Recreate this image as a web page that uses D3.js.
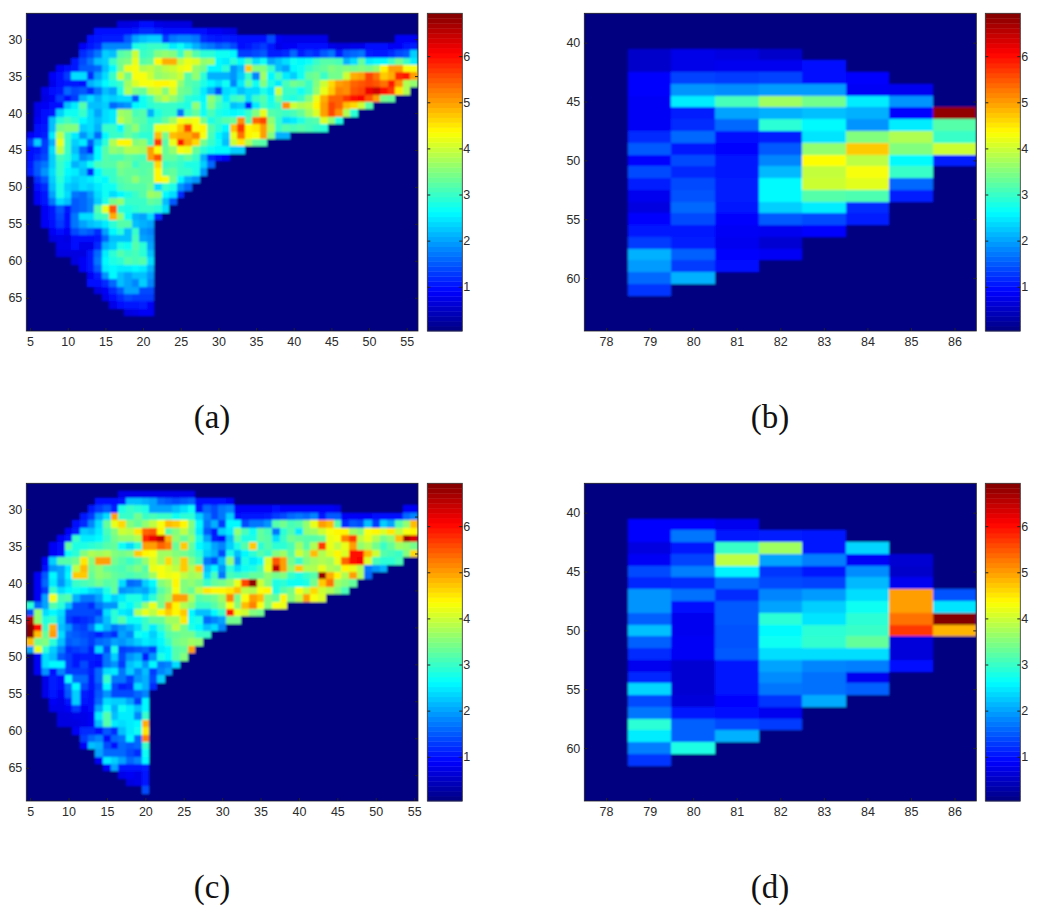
<!DOCTYPE html>
<html>
<head>
<meta charset="utf-8">
<script src="https://cdnjs.cloudflare.com/ajax/libs/d3/7.8.5/d3.min.js"></script>
<style>
  html, body { margin: 0; background: #fff; }
  text { font-family: "Liberation Sans", Arial, sans-serif; font-size: 12.5px; fill: #2b2b2b; }
  .caption { font-family: "Liberation Serif", serif; font-size: 33px; fill: #111; text-anchor: middle; }
  .domain { display: none; }
  .tick line { stroke: #222; }
  .cell { shape-rendering: crispEdges; }
</style>
</head>
<body>
<div id="chart"></div>
<script>
// rows 28..67, columns start at the value in startA
const startA = [17,14,13,12,12,11,9,8,8,7,7,6,6,6,6,5,5,5,5,5,5,6,6,6,6,7,7,7,8,8,9,9,11,12,13,13,14,15,16,18];
const valuesA = [
  [.7,.7,.75,.95,.95,.75,.7,.7,.7,.7],
  [.95,.95,1,1,1,1.05,1.2,1.2,1.1,1,1,1,1,1,.95,.85,.85,.75,.7],
  [.95,1.05,1.1,1.1,1.1,1.5,2,2.2,2.3,2.3,1.3,1.7,1.8,1.8,1.7,1.2,1.1,1.05,1.1,1.05,.95,.95,.95,.95,1.4,.85,.75,.75,.75,.75,.75,.75,0,0,0,0,0,0,0,0,0,.85,.85,.85],
  [.85,1.05,1.2,1.8,1.8,1.8,1.8,2.8,2.9,3,3,2.9,2.5,2.7,2.4,2.1,1.8,1.7,1.5,1.6,1.4,1,1.05,1.2,1.3,1.05,.75,.85,.85,.95,.95,.95,1,.75,.7,.7,.75,.75,1,1,1,.85,.85,1.05,1.1],
  [1.2,1.4,1.7,2.3,2.2,3.2,3.3,4,3,3.1,3.5,3.6,3.5,3,3.7,3.2,2.9,2.9,2.7,2.7,2.6,1.3,1.3,1.4,1.5,1.1,1.1,1.2,1.6,1.1,1.3,1.2,1.5,1.7,1.1,1.5,1.6,1.7,1.1,1.05,1.05,1.2,1.4,1.5,2.3],
  [1.05,1.4,1.7,2.2,2.3,3,3.4,3.5,4.2,3.2,3.3,4.4,4.9,4.9,3.9,4.2,4.1,3.6,3.7,2.6,2.5,2.9,2.6,3.1,2.4,2.7,2,2.2,2.4,2.7,2.6,2.7,3,3.2,3.2,3.1,2.1,2.4,3.3,2.5,2.6,2.6,3,3.4,3,2.5],
  [.85,.95,1.05,1.5,1.5,1.6,2.2,2.6,3.4,4.2,4.3,3.8,3.9,3.7,3.9,4,4.2,4.3,3.6,3.4,2.6,2.6,2.9,1.9,2.2,4.7,3.5,3.5,3,2.2,2,2.6,2.7,3,3.2,3.3,3.5,3.4,3.5,3.4,3.5,3.4,3.6,4.4,5,5,4.3,4.3],
  [.85,.95,1.3,2.4,2.4,1.2,2,2.4,3,4,3.4,4.3,4.3,4,3.6,3.7,3.8,4,3.2,3.6,2.9,2.1,2.1,2.1,1.9,2.3,3,1.8,3.7,2.6,3.1,2.5,2.3,2.7,3.3,3.4,3,3.4,3.4,4,4.9,5,5.6,5.3,4.7,4.9,5.8,5.9,5,4.3,3.6],
  [.75,.95,1.05,1.05,1,2.1,2.3,2.6,2.8,3,3.7,4.1,4.3,4.3,4.4,4.4,4.3,3.6,3.2,3.1,2.8,2.6,2.4,2.7,1.8,2.5,3.3,2.7,3.5,2.8,2.5,3.1,3.4,3.3,3,3.5,4,4.6,5,5.1,5.4,5.5,5.6,5.5,5.3,5.9,5.1,3.8,3.6],
  [.75,.95,1.05,1.6,1.4,1.5,1.2,1.7,2.2,2,2.8,3.8,3.4,3.3,3.9,4,3.5,4.1,3.4,3.3,3,2.5,2.1,1.4,2.4,2.5,2.2,2.4,2.4,2.8,2.5,4,3,3,2.7,3,3.6,4.2,4.7,5.2,5.1,5.5,5.6,6.2,6.4,6,5.7,4.5,3.8],
  [.7,.85,1.3,.95,1.3,2.1,2.4,2.1,2.4,2.3,2.4,2.4,1.5,2.7,3,3.6,3.9,3.6,3.3,2.9,2.8,2.6,3.6,3.2,2.5,3,3.1,2.4,3,3.2,2.7,3.4,2.9,2.8,3,3.5,4.2,4.9,5.4,5.4,5.7,6,6.1,5.5,5,3.4,3.3],
  [.75,.85,1,1,2.2,2.5,3.2,2.2,2.2,2.3,1.6,1.8,1.9,2.6,2.7,2.9,3,3,3,2.9,2.8,3.6,2.7,3.5,3,2.8,2.2,2.3,1.05,2.5,3.1,2.8,3,5.1,4,3.8,3.9,4.4,5,5.6,5.4,4.8,4.6,4,3.2],
  [.75,.95,1.05,2.3,2.7,2.7,3,2.4,2,2.4,2.5,3.7,3.6,3.1,3.2,2.1,2.8,3,3,1.7,3,3.3,2.7,3.1,2.8,2.7,2.6,2.7,3,3.5,4.2,3.2,3.1,3,3.1,3.3,3.7,4.1,5,5.6,5.1,3.8,2.9],
  [.85,1,2.2,2.9,3.1,2.9,2.6,2.4,2.2,2.4,2.5,3.9,3.6,3.3,3.2,2.9,3,3.3,3.7,4.3,4.2,4.3,3.4,2.8,3,3.2,3.3,5.1,3.2,5.4,5.6,3.6,3,2.4,2.5,2.8,3.1,3.2,4.1,3.6,2.8],
  [.95,1.05,2.2,3.4,3.5,3.5,2.3,2.4,2.1,3,3,2.6,3.3,3.6,3.1,3,4.2,4.2,4.3,4.7,5.6,4.3,4.4,3.2,2.9,2.6,4.8,5.7,4.4,4.5,5,3.8,3,3.2,3.1,3.2,3.1,3,2.9],
  [.85,.95,1.1,2.5,3.9,3,2.5,1.9,2.3,1.6,2.6,3,3,3.3,3.1,2.9,2.9,4.8,3.4,4.8,4.9,4.9,5.2,4.3,3.1,2.6,2.3,4.2,5.3,4.4,4.3,5,3.5,2.1,2.1],
  [1.3,2.3,1.3,2.1,4.2,3,2.3,2.5,1.5,2.3,2.9,3.8,4.4,4.4,3.5,3.6,3,5.7,3.2,4.2,5.9,5,4.6,3.4,3,2.7,2.2,4,4.5,3.8,3.3,3.2],
  [1,1.05,1.3,2.4,3.9,3,2.2,1.6,1.1,2.6,3.2,3.6,3.5,3.8,3.8,3.7,5,4.3,3.3,3.6,4.3,4.2,3.3,2.9,2.7,2.6,2.6,2.3,2.3],
  [1,1.2,1.4,2.3,3.1,2.9,2.4,1.8,2,2.6,3.2,3.1,3.1,3.3,3.2,3.1,5,5.5,3.3,3.3,3.1,3.3,3,2.1,1.2,.95,.85],
  [1.05,1.5,1.7,2.3,3,2.7,2.1,2.3,2.7,3.1,3.2,3.2,3.5,3.4,3,3.2,3.2,4.6,3,3.1,3,2.8,2.8,2.3,1.6],
  [1.1,1.5,1.9,2.4,3,2.6,2.5,2.2,1.2,2.6,3,3,3.4,3.3,3.3,3.2,3.3,4.4,3.2,3.3,3,3,2.8,1.9],
  [1.2,1.5,2.3,2.9,2.5,2.3,2.4,2.5,2.7,2.6,3,3.2,3.3,3.6,3.3,3.3,4.4,4.3,3.4,2.6,2.1,1.9],
  [.95,1.2,2.2,2.8,2.3,2.2,2.4,2.3,2.5,2.7,2.7,3.1,3.2,3.2,3.2,3.4,2.4,3,2.8,1.9,1.6],
  [.85,1.05,2,2.8,2.4,1.7,1.6,1.9,2.4,2.7,2.4,2.6,2.8,3,3.2,3.7,3.6,2.6,2.4,1.2],
  [.85,1.05,1.7,2.4,2.2,1.5,1.6,1.8,2.3,2.8,3.4,3.6,3,3,3,3.3,3.2,2.2,1.5],
  [.85,1.05,1.5,1.05,1.5,1.6,1.8,3.2,4.2,5.5,2.9,2.8,2.9,3,3,2.9,2.4],
  [.85,1.05,1.4,1,1.7,2.4,2.4,3,3.1,4.9,3.6,2.7,2.1,2,2.4,1.2],
  [.85,1,1.3,1,1.7,2,2.2,2.3,2.5,2.9,3.2,3.2,2.2,2.1,2],
  [.85,1,.85,1.4,1.6,1.5,1.2,2,2.6,2.9,2.2,3,1.9,1.8],
  [.7,.75,.7,.95,.95,1,1.05,1.6,2.2,2.2,2.2,3.1,2,1.9],
  [.75,.75,.95,.75,.75,1.2,2.1,2.3,2.8,2.7,3.2,2.9,2],
  [.7,.7,.7,.7,1.05,1.6,2.5,2.9,3.2,3,3.1,2.9,2.2],
  [.7,.85,1.05,1.7,2.6,2.8,2.9,3.2,3.1,3.2,2.4],
  [.85,1.05,1.5,2.5,2.6,2.5,2.5,2.6,2.5,2.1],
  [.85,1.1,1.9,2.6,2.2,2,2.2,2.2,1.9],
  [.95,.95,1.2,1.6,2.2,2,1.8,2.3,1.8],
  [.7,.85,1.2,1.5,2,2,1.4,1.4],
  [.75,.95,1.2,1.4,1.3,1.3,1.3],
  [.75,.95,1.05,1.05,1.1,.85],
  [.7,.75,.85,.85]
];

// rows 28..68
const startC = [17,14,13,12,11,10,9,8,8,7,7,6,6,6,6,5,5,5,5,5,5,5,6,6,6,7,7,7,8,8,9,9,11,12,12,14,14,15,17,18,20];
const valuesC = [
  [.75,.75,.75,.75,.75,.75,.75,.75,.75,.75],
  [.95,1,1,1.05,2.2,2.2,2.1,2,1.6,1.5,1.4,1.5,1.6,1,.95,.95,.95,.85],
  [1.05,1.3,1.5,1.1,2.8,3,2.9,2.8,2,2,2,2.2,2.4,2.7,1.05,1.6,1.4,1.7,1.8,.85,.85,.85,.85,.85,1,.85,.85,.85,.85,.85,.85,.85,.75,0,0,0,0,0,0,0,0,.85,.85,1],
  [1.05,1.3,2,2.4,5,3,3,3.4,3,3.1,3,3,2.7,2.9,2.9,2.3,1.8,1.4,1.7,2.3,1,1.05,1.05,1.05,1.1,1.3,1.4,1.6,1.7,1.6,1.8,1.05,1.5,1.5,.85,.85,.85,.85,.95,.95,.95,1,1.6,1.8],
  [1,1.2,1.8,2.4,3.3,4.2,4.6,3.5,3.3,3.6,3.9,4.3,4.8,4.7,4.4,3.5,2.6,1.7,2.1,1.3,2.6,2.6,1.4,1.7,1.7,1.9,3.2,3.4,3.1,3.2,3.6,4.2,5,4.8,3.2,1.2,1.5,1.4,2.2,1.3,2.3,2,3.2,3.6,4.8],
  [.85,1.1,2.3,2.2,2.5,3.1,3.5,4,3.9,4.5,5.4,5.5,4.4,3.2,3.5,3.9,3.4,2.5,1.5,1.05,2.3,2.5,3.6,3.1,2.7,3.3,3.1,1.7,2.9,3.2,2.5,3.6,3.7,4,4.3,4.4,4.4,3.7,3.5,4.3,4.4,4.1,4.5,3.9,4.3,4.4],
  [.85,1.05,3,2.5,2.5,2.6,3,3.4,3.6,3.6,3.8,5.8,6.2,6.5,4.9,3.6,3.3,3.6,2.8,2,1.1,1,2.2,3.3,2.8,2.8,3.3,3.2,2.4,3,3.4,3.3,3.2,3.2,3.3,4.2,4.3,5.2,5.7,3.9,4.2,3.8,3.4,3.6,4.8,6.7,6.3],
  [.85,1,3.3,2.8,2.8,2.9,3,3.2,3.3,2.7,2.4,2.9,5,5,5.4,5.2,3.3,4.7,3.3,2.6,2.4,2,1.8,2.3,2.8,3.2,4.7,2.9,3.2,2.9,2.9,3.1,3.7,3.2,3.8,5.7,4.2,3.9,4.2,5,3.6,3.8,3.4,3,3.3,3.7,3.6,3.4],
  [.85,1,2.7,2.9,3.5,3.8,3.7,3.8,3.5,3.4,3.5,4.7,4.4,4.3,3.7,3.7,3.5,3.4,3.2,2.9,2.3,2.1,1.4,2.8,2.2,2.6,2.9,3.2,3,3.5,3.7,3.2,4,3.6,4.8,3.8,4.1,4.4,4.1,6,6,4.8,4,3.2,3.1,3,3.5,4.6],
  [.85,2.3,3.2,3.2,3.4,4.5,3.5,5,5,3.4,3.2,3,3.2,3.6,4.1,3.7,4.6,3.7,4.7,3.5,3.1,1.7,1.4,2.2,3.6,1.9,2.8,2.5,2.7,4.1,5.5,5,3.4,3,3.5,3.7,3.8,3.7,4.2,5.4,6,6.1,4.1,3.1,2.9,2.9,3.1],
  [.95,1.9,2,2.5,3.9,4.8,3.4,3.6,3.3,3.2,3.1,3.3,3.5,3.2,4.2,4.3,4.1,3.9,4.7,3.8,4.7,2.2,2.6,1.9,2.9,2.4,2.7,2.8,3.1,4.2,6.5,5,3.6,4.7,3.8,3.8,4.2,3.8,3.7,4.4,4.2,3.8,1.7,1.9,2.1],
  [.85,1.5,2.6,2,2.6,4.7,4.7,3.3,3.6,3.5,3.3,3.2,3.1,3.2,3.3,3.7,4.3,4.2,4.3,3.9,3.7,3.8,2.4,3.1,1.7,3.1,3,3.1,3.3,3.3,3.6,3.4,3.5,3,2.8,3,3.2,6.8,4.9,4.4,3.8,5,3.8,1.6],
  [.85,1.6,2.5,1.9,2.4,3,3.1,3.2,3.4,3.2,3.3,2.4,1.6,1.7,2.3,2.6,3.5,3.7,4.4,3.5,3.6,3.4,3,3.3,3.4,3.6,4.2,5.6,6.8,4,3.5,2.8,2.9,2.7,2.7,2.8,3.4,4.7,5.3,3.7,3.5,3.3],
  [.85,1.3,3,2.4,2.6,2.7,2.6,2.4,2.3,2.8,3.3,1.9,2,2.1,2,2.4,3.2,3.5,4.3,3.5,3.3,3.9,4.5,4.4,4.4,4.5,4.8,3.9,3.8,4.3,4.4,2.8,3.2,3.4,4.3,3.9,4.6,4,3.8,3.5,3.1],
  [.85,2,4.3,3.1,3.2,2.1,1.7,1.7,2,2.6,2.3,2.5,2.8,2.8,2.4,2.9,3.4,3.7,5,5,3.8,3.2,3.3,3.4,3.7,5.2,3.4,4.3,5,4.8,3.5,3.3,4.4,3.5,3.9,5,4.3,4.1],
  [2.9,1.6,2,3.2,2.9,2.2,1.4,1.4,1.2,1.7,1.9,1.9,2.8,2.6,3,3.6,4.2,3.4,5,4.4,3.8,3.5,3,3,3.2,3.5,4.3,3.5,4.8,5.2,4.3,3.5,4.3,4.2],
  [1.4,3.6,2.4,2.6,2.4,1.4,1.4,1.4,1.4,1.3,2.4,2.9,2.5,2.4,3.8,4.2,3.9,4.4,4.7,4.4,4.7,2.6,2.2,2.2,2.6,3,5.9,4.2,4,3.5,3.4],
  [6.6,3.6,2.8,3,2.3,1.3,1.1,1.2,1.3,1.7,2.2,2.9,3.2,2.7,2.7,3,3.3,3.3,3.7,3.7,4.5,2.7,2.8,1.6,1.8,2,3.4,3.4],
  [6.9,6,3,4.9,2.2,1.9,1.4,1.3,1.7,2.5,2.1,1.7,1.9,2.1,2.4,3,2.5,3,3.4,3.9,3.4,2.8,2.6,2.2,2.4,1.8],
  [6.9,4.8,3.3,5,2.4,1.6,1.5,1.4,1.3,1.1,1.4,1.2,2,1.8,2.7,2.6,2.3,2.7,3.2,3.3,3.4,3.4,3,3],
  [4.8,3.4,3.5,2.9,2.2,1.5,1.6,1.5,1.3,1.6,1.7,2,1.9,2.1,2.3,2.5,2.4,2.6,3,3.4,3.5,3.7,3.6],
  [2,4.2,2.9,2.3,1.8,1.2,1.3,1.4,1.1,2.4,1.4,2.8,1.3,1.4,1.5,1.6,1.3,2.5,2.6,3.2,3.3,5],
  [.85,2.4,2.2,1.5,1.3,1.05,1.1,1.1,1.05,1.7,2.3,1.4,1.9,2.1,1.1,1.9,2.8,2.6,3.2,3.5],
  [.85,2.4,2.6,2.6,1.3,1.05,1.4,1.05,1,1.7,1.9,1.3,2.2,2.4,1.9,2.6,1.7,1.8,2.4],
  [.85,1.9,1,1.8,1.3,1.3,1.3,1.1,1.6,2.4,2.5,1.7,2.3,1.8,2.2,1.3,1.8,2],
  [.75,1.1,.95,2.7,1.6,1.6,1.05,1.6,3,1.7,1.7,1.3,1.9,2.1,1.4,2.3],
  [.75,1.1,1,1.6,2.6,1.4,1.05,1.4,2.6,1.4,1.1,1.2,2.4,2.1,1.2],
  [.75,1.05,.85,1.5,2.3,1.1,1,1.5,1.9,1.4,1.4,1.4,1.6,1.8],
  [.85,.75,1.05,2.3,1.05,1,1.6,2.4,2.3,2.3,2,1.3,2.6],
  [.75,.75,.85,1.3,.85,.95,2,2.7,2.1,2.7,2.5,2.2,2.6],
  [.7,.7,.75,.75,.85,2.5,3.2,2.2,2.5,2.5,1.8,3],
  [.7,.7,.7,.75,.85,2.2,3.2,2.5,2.4,2.5,2.6,4.9],
  [.85,1.2,1.2,.95,1.5,1.2,2.2,2.5,2.7,4.5],
  [1.3,1.6,1.8,.95,1.6,1.7,2.6,1.6,5.2],
  [.85,2.2,2.1,1.4,1,1.6,1.5,1.6,3],
  [2,1.6,1.6,1.6,1.4,1.2,2.7],
  [.85,2.5,2.3,2,1.6,1.8,2.6],
  [.85,2,1.05,1.05,1.05,1.1],
  [.75,.85,.75,1.05],
  [.7,.75,1.05],
  [1.4]
];

// rows 41..61, columns 79..86
const valuesB = [
  [.55,.75,.7,.55],
  [.55,.75,.8,.8,.95],
  [.9,1.35,1.3,1.35,.95,.9],
  [.9,1.9,1.85,1.95,1.95,.85,.8],
  [.85,2.5,3.1,3.7,3.4,2.5,1.9],
  [.85,1.1,2,2.1,2.2,2.1,.9,6.8],
  [.85,1.2,1.6,2.9,2.6,1.9,2.5,3.2],
  [1.2,1.6,1,1.1,2.45,3.5,3.8,3],
  [1.5,1.05,.9,1.5,3.6,4.7,3.5,4],
  [.9,1.4,1.05,1.8,4.35,3.9,2.6,1.1],
  [1.4,1.15,1.05,2.15,3.95,4.3,3],
  [1.1,1.4,1.1,2.6,4,4.15,1.6],
  [.8,1.45,1.1,2.6,3.2,3.15,1.1],
  [.7,1.6,1.05,2.3,2.5,1.2],
  [.9,1.4,.9,1.5,1.4,1.1],
  [1.05,1.05,.85,.8,.9],
  [1.3,1.1,.8,.6],
  [2.1,1.55,.9,.85],
  [1.95,1.3,.95],
  [1.6,2.1],
  [1.25]
];
const valuesD = [
  [.9,.9,.8],
  [.9,1.7,1.05,1.1,1.05],
  [.7,1.05,3,3.7,1.05,2.35],
  [.85,1.35,3.9,2,1.75,.85,.6],
  [1.4,1.75,2.55,1.25,1.05,1.85,.55],
  [1.15,1.2,1.6,1.4,1.35,2.15,.8],
  [1.9,1.65,1.2,1.8,1.95,2.4,5,1.45],
  [1.9,1,1.5,2,2.3,2.7,5,2.45],
  [1.55,.8,1.5,2.9,2.45,2.9,5.3,6.9],
  [2.2,.8,1.45,2.6,2.9,3,5.7,4.85],
  [1.55,.85,1.45,2.7,2.95,3.3,.65],
  [1.2,.85,1.5,2.4,2.4,2.4,.65],
  [.8,.6,1.05,2,1.8,1.75,.95],
  [1.15,.6,1.05,1.85,1.65,.8],
  [2.35,.6,1.05,1.7,1.65,1.55],
  [1.4,.65,.9,1.25,2.05],
  [1.7,1.05,.95,.8],
  [2.9,1.55,1.4,1.3],
  [2.5,1.55,2.1],
  [1.75,2.8],
  [1.25]
];

const barTicks = [1, 2, 3, 4, 5, 6];
const ticks5to55 = [5, 10, 15, 20, 25, 30, 35, 40, 45, 50, 55];
const ticksLeftRows = [30, 35, 40, 45, 50, 55, 60, 65];
const ticksCRightEdge = [31, 36, 41, 46, 51, 56, 61, 66];
const ticks78to86 = [78, 79, 80, 81, 82, 83, 84, 85, 86];
const ticksZoomRows = [40, 45, 50, 55, 60];

const vMin = 0.04, vMax = 6.93;

// matlab jet, stops given as fractions of the colour range
const jet = d3.scaleLinear()
  .domain([0, 1/8, 3/8, 5/8, 7/8, 1].map(t => vMin + t * (vMax - vMin)))
  .range(['#000080', '#0000ff', '#00ffff', '#ffff00', '#ff0000', '#800000'])
  .clamp(true);

const svg = d3.select('#chart').append('svg')
  .attr('width', 1050)
  .attr('height', 912);

const defs = svg.append('defs');
defs.append('filter').attr('id', 'soft')
  .attr('x', '-2%').attr('y', '-2%').attr('width', '104%').attr('height', '104%')
  .append('feGaussianBlur').attr('stdDeviation', 0.8);

const panels = [
  { id: 'a', left: 26.3, right: 418, top: 13.3, bottom: 331, bar: 427.3, xd: [4.5, 56.5], yd: [26.5, 69.5], first: 28, starts: startA, values: valuesA, xt: ticks5to55, yt: ticksLeftRows, rt: ticksLeftRows, label: '(a)', lx: 212, ly: 428 },
  { id: 'b', left: 584.3, right: 976.3, top: 13.3, bottom: 331, bar: 985.3, xd: [77.5, 86.5], yd: [37.5, 64.5], first: 41, starts: null, values: valuesB, xt: ticks78to86, yt: ticksZoomRows, rt: ticksZoomRows, label: '(b)', lx: 770, ly: 428 },
  { id: 'c', left: 26.3, right: 418, top: 483.3, bottom: 801, bar: 427.3, xd: [4.5, 55.5], yd: [26.5, 69.5], first: 28, starts: startC, values: valuesC, xt: ticks5to55, yt: ticksLeftRows, rt: ticksCRightEdge, label: '(c)', lx: 212, ly: 898 },
  { id: 'd', left: 584.3, right: 976.3, top: 483.3, bottom: 801, bar: 985.3, xd: [77.5, 86.5], yd: [37.5, 64.5], first: 41, starts: null, values: valuesD, xt: ticks78to86, yt: ticksZoomRows, rt: ticksZoomRows, label: '(d)', lx: 770, ly: 898 }
];

panels.forEach(drawPanel);

function drawPanel(p) {
  const x = d3.scaleLinear().domain(p.xd).range([p.left, p.right]);
  const y = d3.scaleLinear().domain(p.yd).range([p.top, p.bottom]);

  // flatten the rows into cells
  const cells = [];
  p.values.forEach((row, i) => {
    const start = p.starts ? p.starts[i] : 79;
    row.forEach((v, j) => {
      if (v > 0) cells.push({ col: start + j, row: p.first + i, v });
    });
  });

  defs.append('clipPath').attr('id', 'clip-' + p.id)
    .append('rect')
    .attr('x', p.left).attr('y', p.top)
    .attr('width', p.right - p.left).attr('height', p.bottom - p.top);

  const plot = svg.append('g').attr('clip-path', `url(#clip-${p.id})`)
    .append('g').attr('filter', 'url(#soft)');

  plot.append('rect')
    .attr('x', p.left - 3).attr('y', p.top - 3)
    .attr('width', p.right - p.left + 6).attr('height', p.bottom - p.top + 6)
    .attr('fill', jet(vMin));

  plot.selectAll('.cell')
    .data(cells)
    .enter().append('rect')
    .attr('class', 'cell')
    .attr('x', d => x(d.col - 0.5))
    .attr('y', d => y(d.row - 0.5))
    .attr('width', d => x(d.col + 0.5) - x(d.col - 0.5))
    .attr('height', d => y(d.row + 0.5) - y(d.row - 0.5))
    .attr('fill', d => jet(d.v));

  svg.append('g')
    .attr('transform', `translate(0,${p.bottom})`)
    .call(d3.axisBottom(x).tickValues(p.xt).tickFormat(d3.format('d')).tickSizeInner(-3).tickSizeOuter(0).tickPadding(6));

  svg.append('g')
    .attr('transform', `translate(${p.left},0)`)
    .call(d3.axisLeft(y).tickValues(p.yt).tickFormat(d3.format('d')).tickSizeInner(-3).tickSizeOuter(0).tickPadding(4));

  svg.append('g')
    .attr('transform', `translate(${p.right},0)`)
    .call(d3.axisRight(y).tickValues(p.rt).tickFormat('').tickSizeInner(-3).tickSizeOuter(0));

  svg.append('rect')
    .attr('x', p.left).attr('y', p.top)
    .attr('width', p.right - p.left).attr('height', p.bottom - p.top)
    .attr('fill', 'none').attr('stroke', '#222').attr('stroke-width', 0.8);

  drawBar(p);

  svg.append('text').attr('class', 'caption')
    .attr('x', p.lx).attr('y', p.ly)
    .text(p.label);
}

function drawBar(p) {
  const barWidth = 35;
  const y = d3.scaleLinear().domain([vMax, vMin]).range([p.top, p.bottom]);
  const levels = d3.range(64).map(i => vMin + (i + 0.5) * (vMax - vMin) / 64);
  const step = (vMax - vMin) / 64;

  const g = svg.append('g');
  g.selectAll('rect')
    .data(levels)
    .enter().append('rect')
    .attr('x', p.bar)
    .attr('width', barWidth)
    .attr('y', d => y(d + step / 2))
    .attr('height', d => y(d - step / 2) - y(d + step / 2) + 0.4)
    .attr('fill', d => jet(d));

  svg.append('g')
    .attr('transform', `translate(${p.bar + barWidth},0)`)
    .call(d3.axisRight(y).tickValues(barTicks).tickFormat(d3.format('d')).tickSizeInner(-3).tickSizeOuter(0).tickPadding(1));

  svg.append('g')
    .attr('transform', `translate(${p.bar},0)`)
    .call(d3.axisLeft(y).tickValues(barTicks).tickFormat('').tickSizeInner(-3).tickSizeOuter(0));

  svg.append('rect')
    .attr('x', p.bar).attr('y', p.top)
    .attr('width', barWidth).attr('height', p.bottom - p.top)
    .attr('fill', 'none').attr('stroke', '#333').attr('stroke-width', 0.8);
}
</script>
</body>
</html>
